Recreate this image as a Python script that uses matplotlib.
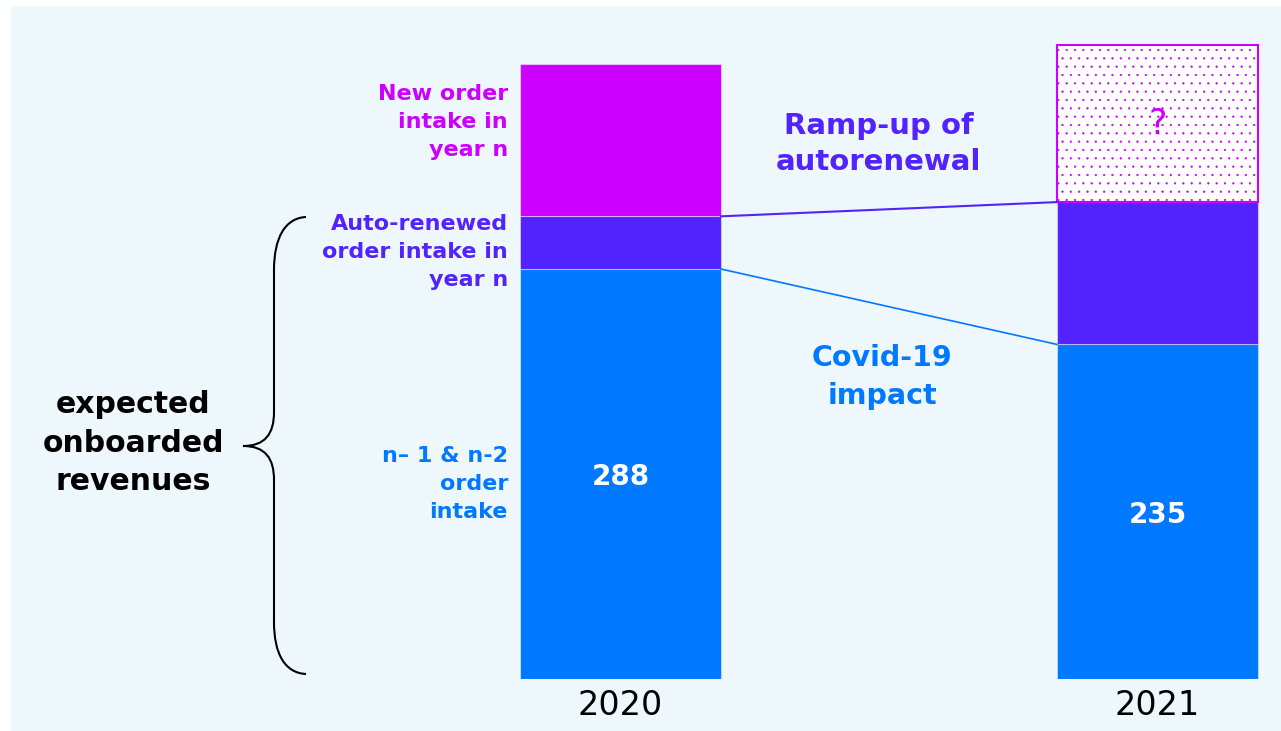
import matplotlib.pyplot as plt
from matplotlib.patches import Rectangle, PathPatch
from matplotlib.path import Path

years = ['2020', '2021']
carried = [288, 235]       # n-1 & n-2 order intake
renewed = [37, 100]        # auto-renewed order intake in year n
new_intake = [107, 110]    # new order intake in year n (2021 not known yet)

blue = '#0078FF'
violet = '#5222FF'
magenta = '#CC00FF'
panel = '#EEF8FC'

plt.rcParams['hatch.linewidth'] = 0.4

fig = plt.figure(figsize=(12.81, 7.31), dpi=100, facecolor=panel)
# white margin on the left and top of the panel
for r in [(0, 0, 11 / 1281, 1), (0, 725 / 731, 1, 6 / 731)]:
    fig.patches.append(Rectangle(r[:2], r[2], r[3], transform=fig.transFigure,
                                 color='white', lw=0, zorder=-5))
ax = fig.add_axes([0, 52 / 731, 1, 679 / 731])
ax.set_facecolor('none')
ax.set_xlim(-1.1555, 1.2300)
ax.set_ylim(0, 476.96)


# pixel position -> data position, used for the free-standing annotations
def px(xp):
    return (xp - 620.5) / 537


def py(yp):
    return (679 - yp) / 1.4236


x = [0, 1]
w = 0.374
edge = (1, 1, 1, 0.45)
ax.bar(x, carried, w, color=blue, edgecolor=edge, linewidth=0.8)
ax.bar(x, renewed, w, bottom=carried, color=violet, edgecolor=edge, linewidth=0.8)
tops = [c + r for c, r in zip(carried, renewed)]
ax.bar(x[0], new_intake[0], w, bottom=tops[0], color=magenta, edgecolor=edge, linewidth=0.8)
ax.bar(x[1], new_intake[1], w, bottom=tops[1], facecolor='white', edgecolor=magenta,
       hatch='..', linewidth=1.5)

# connectors between the two stacks
ax.plot([x[0] + w / 2, x[1] - w / 2], [tops[0], tops[1]], color=violet, lw=1.5)
ax.plot([x[0] + w / 2, x[1] - w / 2], [carried[0], carried[1]], color=blue, lw=1.2)

# values inside the blue segments
for xi, c in zip(x, carried):
    ax.text(xi, c / 2 - 2, str(c), color='white', fontsize=20,
            fontweight='bold', ha='center', va='center')
ax.text(x[1], tops[1] + new_intake[1] * 0.5, '?', color=magenta, fontsize=25,
        ha='center', va='center')

# segment labels left of the 2020 stack
lab = dict(ha='right', va='center', fontsize=16, fontweight='bold', linespacing=1.5)
ax.text(px(508), py(122), 'New order\nintake in\nyear n', color=magenta, **lab)
ax.text(px(508), py(252), 'Auto-renewed\norder intake in\nyear n', color=violet, **lab)
ax.text(px(508), py(484), 'n– 1 & n-2\norder\nintake', color=blue, **lab)

ax.text(px(879), py(144), 'Ramp-up of\nautorenewal', color=violet, fontsize=21,
        fontweight='bold', ha='center', va='center', linespacing=1.4)
ax.text(px(882), py(377), 'Covid-19\nimpact', color=blue, fontsize=20.5,
        fontweight='bold', ha='center', va='center', linespacing=1.45)
ax.text(px(133), py(443), 'expected\nonboarded\nrevenues', color='black', fontsize=21.5,
        fontweight='bold', ha='center', va='center', linespacing=1.4)

# curly brace
pts = [(306, 217), (285, 218), (274, 238), (274, 270),
       (274, 412), (274, 434), (265, 446), (243, 446),
       (265, 446), (274, 458), (274, 480),
       (274, 622), (274, 654), (285, 673), (306, 674)]
codes = [Path.MOVETO, Path.CURVE4, Path.CURVE4, Path.CURVE4,
         Path.LINETO, Path.CURVE4, Path.CURVE4, Path.CURVE4,
         Path.CURVE4, Path.CURVE4, Path.CURVE4,
         Path.LINETO, Path.CURVE4, Path.CURVE4, Path.CURVE4]
ax.add_patch(PathPatch(Path([(px(a), py(b)) for a, b in pts], codes),
                       fill=False, color='black', lw=1.5, clip_on=False))

ax.set_xticks(x)
ax.set_xticklabels(years, fontsize=24)
ax.tick_params(axis='x', length=0, pad=7)
ax.set_yticks([])
for s in ax.spines.values():
    s.set_visible(False)

fig.savefig('out.png', dpi=100, facecolor=panel)
